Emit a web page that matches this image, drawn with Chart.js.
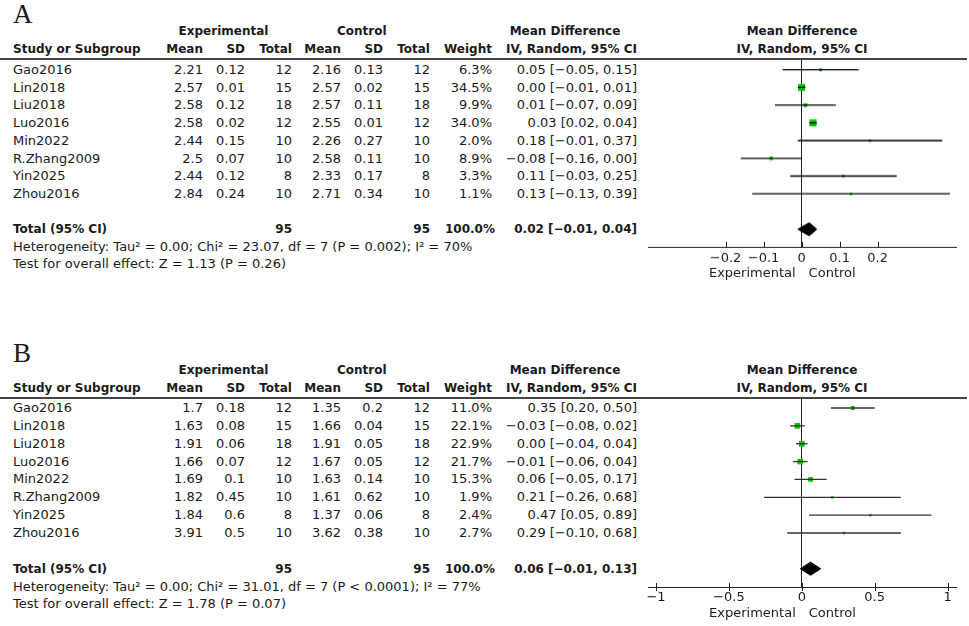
<!DOCTYPE html>
<html>
<head>
<meta charset="utf-8">
<script src="https://cdn.jsdelivr.net/npm/chart.js@4.4.0/dist/chart.umd.min.js"></script>
<style>
body { margin: 0; background: #fff; width: 969px; height: 626px; overflow: hidden; position: relative;
       font-family: "DejaVu Sans", sans-serif; color: #1a1a1a; }
.t { position: absolute; white-space: nowrap; font-size: 13px; line-height: 16px; }
.b { font-weight: bold; font-size: 12px; }
.hl { position: absolute; left: 0; width: 967px; height: 2px; background: #444; }
.lab { position: absolute; font-family: "Liberation Serif", serif; font-size: 27px; line-height: 27px; }
canvas { position: absolute; }
</style>
</head>
<body>
<script>
var studies = ['Gao2016', 'Lin2018', 'Liu2018', 'Luo2016', 'Min2022', 'R.Zhang2009', 'Yin2025', 'Zhou2016'];
var groupN = [12, 15, 18, 12, 10, 10, 8, 10];

// panel A
var aExpMean = [2.21, 2.57, 2.58, 2.58, 2.44, 2.5, 2.44, 2.84];
var aExpSD = [0.12, 0.01, 0.12, 0.02, 0.15, 0.07, 0.12, 0.24];
var aCtrlMean = [2.16, 2.57, 2.57, 2.55, 2.26, 2.58, 2.33, 2.71];
var aCtrlSD = [0.13, 0.02, 0.11, 0.01, 0.27, 0.11, 0.17, 0.34];
var aWeight = [6.3, 34.5, 9.9, 34.0, 2.0, 8.9, 3.3, 1.1];
var aMD = [0.05, 0.00, 0.01, 0.03, 0.18, -0.08, 0.11, 0.13];
var aLow = [-0.05, -0.01, -0.07, 0.02, -0.01, -0.16, -0.03, -0.13];
var aHigh = [0.15, 0.01, 0.09, 0.04, 0.37, 0.00, 0.25, 0.39];
var aTotal = [0.02, -0.01, 0.04];
var aTicks = [-0.2, -0.1, 0, 0.1, 0.2];
var aHet = 'Heterogeneity: Tau² = 0.00; Chi² = 23.07, df = 7 (P = 0.002); I² = 70%';
var aTest = 'Test for overall effect: Z = 1.13 (P = 0.26)';

// panel B
var bExpMean = [1.7, 1.63, 1.91, 1.66, 1.69, 1.82, 1.84, 3.91];
var bExpSD = [0.18, 0.08, 0.06, 0.07, 0.1, 0.45, 0.6, 0.5];
var bCtrlMean = [1.35, 1.66, 1.91, 1.67, 1.63, 1.61, 1.37, 3.62];
var bCtrlSD = [0.2, 0.04, 0.05, 0.05, 0.14, 0.62, 0.06, 0.38];
var bWeight = [11.0, 22.1, 22.9, 21.7, 15.3, 1.9, 2.4, 2.7];
var bMD = [0.35, -0.03, 0.00, -0.01, 0.06, 0.21, 0.47, 0.29];
var bLow = [0.20, -0.08, -0.04, -0.06, -0.05, -0.26, 0.05, -0.10];
var bHigh = [0.50, 0.02, 0.04, 0.04, 0.17, 0.68, 0.89, 0.68];
var bTotal = [0.06, -0.01, 0.13];
var bTicks = [-1, -0.5, 0, 0.5, 1];
var bHet = 'Heterogeneity: Tau² = 0.00; Chi² = 31.01, df = 7 (P < 0.0001); I² = 77%';
var bTest = 'Test for overall effect: Z = 1.78 (P = 0.07)';

var neg = function (s) { return String(s).replace('-', '\u2212'); };
var f2 = function (v) { return neg(v.toFixed(2)); };
var ciText = function (m, l, h) { return f2(m) + ' [' + f2(l) + ', ' + f2(h) + ']'; };

function txt(x, y, s, align, bold) {
    var d = document.createElement('div');
    d.className = 't' + (bold ? ' b' : '');
    d.textContent = s;
    d.style.left = x + 'px';
    d.style.top = (y - 8) + 'px';
    if (align === 'r') d.style.transform = 'translateX(-100%)';
    if (align === 'c') d.style.transform = 'translateX(-50%)';
    document.body.appendChild(d);
}

// tick marks and the two side labels under the axis
var axisDeco = {
    id: 'axisDeco',
    afterDraw: function (chart, args, o) {
        var ctx = chart.ctx, a = chart.chartArea, x = chart.scales.x;
        ctx.save();
        ctx.strokeStyle = '#222';
        ctx.lineWidth = 1;
        x.ticks.forEach(function (t) {
            var px = Math.round(x.getPixelForValue(t.value)) + 0.5;
            ctx.beginPath();
            ctx.moveTo(px, a.bottom + o.down);
            ctx.lineTo(px, a.bottom - o.up);
            ctx.stroke();
        });
        ctx.font = '13px "DejaVu Sans"';
        ctx.fillStyle = '#1a1a1a';
        ctx.textBaseline = 'middle';
        var z = x.getPixelForValue(0);
        ctx.textAlign = 'right';
        ctx.fillText('Experimental', z - 6, a.bottom + 27);
        ctx.textAlign = 'left';
        ctx.fillText('Control', z + 7, a.bottom + 27);
        ctx.restore();
    }
};

function panel(p) {
    var rowY = function (i) { return p.row1 + i * p.step; };

    var lab = document.createElement('div');
    lab.className = 'lab';
    lab.textContent = p.label;
    lab.style.left = '13px';
    lab.style.top = p.labelTop + 'px';
    document.body.appendChild(lab);

    var h1 = p.line - 28, h2 = p.line - 10;
    txt(223.5, h1, 'Experimental', 'c', true);
    txt(361.7, h1, 'Control', 'c', true);
    txt(565, h1, 'Mean Difference', 'c', true);
    txt(802, h1, 'Mean Difference', 'c', true);
    txt(13, h2, 'Study or Subgroup', 'l', true);
    [['Mean', 203], ['SD', 245], ['Total', 292], ['Mean', 341], ['SD', 383], ['Total', 430],
     ['Weight', 492], ['IV, Random, 95% CI', 637]].forEach(function (c) { txt(c[1], h2, c[0], 'r', true); });
    txt(802, h2, 'IV, Random, 95% CI', 'c', true);

    var hl = document.createElement('div');
    hl.className = 'hl';
    hl.style.top = (p.line - 1) + 'px';
    document.body.appendChild(hl);

    studies.forEach(function (s, i) {
        var y = rowY(i);
        txt(13, y, s, 'l');
        txt(203, y, String(p.expMean[i]), 'r');
        txt(245, y, String(p.expSD[i]), 'r');
        txt(292, y, String(groupN[i]), 'r');
        txt(341, y, String(p.ctrlMean[i]), 'r');
        txt(383, y, String(p.ctrlSD[i]), 'r');
        txt(430, y, String(groupN[i]), 'r');
        txt(492, y, p.weight[i].toFixed(1) + '%', 'r');
        txt(637, y, ciText(p.md[i], p.low[i], p.high[i]), 'r');
    });
    var nSum = groupN.reduce(function (a, b) { return a + b; }, 0);
    var wSum = p.weight.reduce(function (a, b) { return a + b; }, 0);
    var ty = rowY(9);
    txt(13, ty, 'Total (95% CI)', 'l', true);
    txt(292, ty, String(nSum), 'r', true);
    txt(430, ty, String(nSum), 'r', true);
    txt(495, ty, wSum.toFixed(1) + '%', 'r', true);
    txt(637, ty, ciText(p.total[0], p.total[1], p.total[2]), 'r', true);
    txt(13, ty + p.step, p.het, 'l');
    txt(13, ty + p.step * 2 - 0.5, p.test, 'l');

    // forest plot
    var axisH = 43, padTop = 9;
    var cv = document.createElement('canvas');
    var top = p.line - padTop;
    var height = p.axis + axisH - top;
    cv.width = 339;
    cv.height = height;
    cv.style.left = '630px';
    cv.style.top = top + 'px';
    cv.style.width = '339px';
    cv.style.height = height + 'px';
    document.body.appendChild(cv);

    var yTop = 1 - (rowY(0) - p.line) / p.step;
    var yBottom = 1 + (p.axis - rowY(0)) / p.step;

    var datasets = [];
    studies.forEach(function (s, i) {
        datasets.push({
            data: [{ x: p.low[i], y: i + 1 }, { x: p.high[i], y: i + 1 }],
            borderColor: p.ciColor, borderWidth: 1.3, pointRadius: 0
        });
    });
    datasets.push({
        data: p.md.map(function (m, i) { return { x: m, y: i + 1 }; }),
        showLine: false,
        pointStyle: 'rect',
        pointRadius: function (c) { return Math.max(2.6, 1.2 * Math.sqrt(p.weight[c.dataIndex])) / Math.SQRT2; },
        pointBackgroundColor: '#00c400',
        pointBorderWidth: 0
    });
    var t = p.total, d = 0.37;
    datasets.push({
        data: [{ x: t[1], y: 10 }, { x: t[0], y: 10 - d }, { x: t[2], y: 10 }, { x: t[0], y: 10 + d }, { x: t[1], y: 10 }],
        borderColor: '#000', borderWidth: 1, backgroundColor: '#000', fill: 'shape', pointRadius: 0, tension: 0
    });

    new Chart(cv, {
        type: 'line',
        data: { datasets: datasets },
        options: {
            responsive: false,
            animation: false,
            events: [],
            layout: { padding: { left: 18, right: 13, top: padTop, bottom: 0 } },
            plugins: { legend: { display: false }, tooltip: { enabled: false },
                       axisDeco: { up: p.tickUp, down: p.tickDown } },
            scales: {
                x: {
                    type: 'linear', min: p.xMin, max: p.xMax,
                    afterBuildTicks: function (s) { s.ticks = p.ticks.map(function (v) { return { value: v }; }); },
                    afterFit: function (s) { s.height = axisH; },
                    border: { display: true, color: '#222', width: 1 },
                    grid: {
                        drawTicks: false,
                        color: function (c) { return c.tick && c.tick.value === 0 ? '#222' : 'rgba(0,0,0,0)'; }
                    },
                    ticks: {
                        padding: p.tickPad, color: '#1a1a1a', autoSkip: false, maxRotation: 0,
                        font: { family: 'DejaVu Sans', size: 13 },
                        callback: function (v) { return neg(v); }
                    }
                },
                y: { type: 'linear', display: false, reverse: true, min: yTop, max: yBottom }
            }
        },
        plugins: [axisDeco]
    });
}

panel({
    label: 'A', labelTop: 1, line: 59.3, row1: 70, step: 17.71, axis: 247,
    expMean: aExpMean, expSD: aExpSD, ctrlMean: aCtrlMean, ctrlSD: aCtrlSD, weight: aWeight,
    md: aMD, low: aLow, high: aHigh, total: aTotal, het: aHet, test: aTest,
    ticks: aTicks, xMin: -0.404, xMax: 0.406, ciColor: '#000', tickUp: 5, tickDown: 0, tickPad: 4
});
panel({
    label: 'B', labelTop: 340, line: 398, row1: 408, step: 17.86, axis: 587,
    expMean: bExpMean, expSD: bExpSD, ctrlMean: bCtrlMean, ctrlSD: bCtrlSD, weight: bWeight,
    md: bMD, low: bLow, high: bHigh, total: bTotal, het: bHet, test: bTest,
    ticks: bTicks, xMin: -1.055, xMax: 1.058, ciColor: '#333', tickUp: 4, tickDown: 4, tickPad: 3
});
</script>
</body>
</html>
